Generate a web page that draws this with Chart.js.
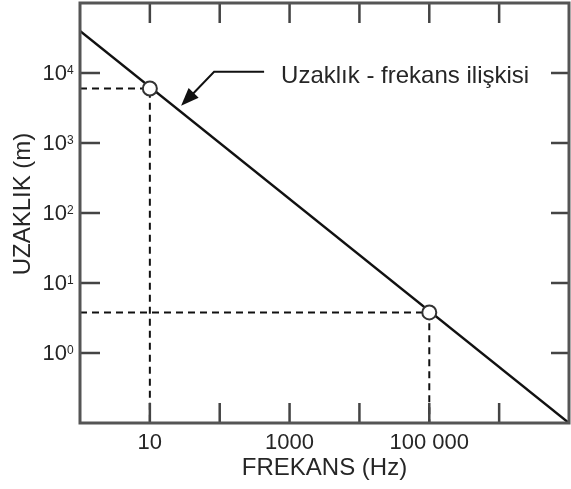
<!DOCTYPE html>
<html><head><meta charset="utf-8">
<script src="https://cdn.jsdelivr.net/npm/chart.js@4"></script>
<style>html,body{margin:0;padding:0;background:#fff}#wrap{width:571px;height:489px;position:relative}</style>
</head><body><div id="wrap"><canvas id="c"></canvas></div>
<script>
// ---- data ----
const xTickValues = [1, 10, 100, 1000, 10000, 100000, 1000000, 10000000];
const xTickLabels = ['', '10', '', '1000', '', '100 000', '', ''];
const yTickValues = [0.1, 1, 10, 100, 1000, 10000, 100000];
const yTickBase = ['', '10', '10', '10', '10', '10', ''];
const yTickExp = ['', '0', '1', '2', '3', '4', ''];
const lineFreq = [1, 10000000];
const lineDist = [40000, 0.1];
const markFreq = [10, 100000];
const markDist = [6000, 3.8];
const annotationText = 'Uzaklık - frekans ilişkisi';
const annotationTip = { x: 28, y: 3400 };
const xTitle = 'FREKANS (Hz)';
const yTitle = 'UZAKLIK (m)';
const xMin = 1, xMax = 1e7, yMin = 0.1, yMax = 1e5;

const FONT = '"Liberation Sans", Arial, Helvetica, sans-serif';
const TEXT = '#262626';
const FRAME = '#555';

const lineData = lineFreq.map((f, i) => ({ x: f, y: lineDist[i] }));
const markData = markFreq.map((f, i) => ({ x: f, y: markDist[i] }));
const guideSets = markFreq.map((f, i) => ({
  data: [{ x: xMin, y: markDist[i] }, { x: f, y: markDist[i] }, { x: f, y: yMin }],
  borderColor: '#111', borderWidth: 2, borderDash: [7, 5], pointRadius: 0, fill: false, tension: 0, order: 3
}));

const decor = {
  id: 'decor',
  afterDatasetsDraw(chart) {
    const { ctx, chartArea: a, scales: { x, y } } = chart;
    ctx.save();
    // inward ticks
    ctx.strokeStyle = '#444'; ctx.lineWidth = 2.5;
    xTickValues.forEach((v, i) => {
      if (i === 0 || i === xTickValues.length - 1) return;
      const px = x.getPixelForValue(v);
      ctx.beginPath();
      ctx.moveTo(px, a.bottom); ctx.lineTo(px, a.bottom - 20);
      ctx.moveTo(px, a.top); ctx.lineTo(px, a.top + 20);
      ctx.stroke();
    });
    yTickValues.forEach((v, i) => {
      if (i === 0 || i === yTickValues.length - 1) return;
      const py = y.getPixelForValue(v);
      ctx.beginPath();
      ctx.moveTo(a.left, py); ctx.lineTo(a.left + 20, py);
      ctx.moveTo(a.right, py); ctx.lineTo(a.right - 18, py);
      ctx.stroke();
    });
    // frame
    ctx.strokeStyle = FRAME; ctx.lineWidth = 3;
    ctx.strokeRect(a.left, a.top, a.right - a.left, a.bottom - a.top);
    // y tick labels with superscripts
    ctx.fillStyle = TEXT;
    yTickValues.forEach((v, i) => {
      if (!yTickBase[i]) return;
      const py = y.getPixelForValue(v);
      ctx.font = '22px ' + FONT;
      ctx.textAlign = 'right'; ctx.textBaseline = 'middle';
      ctx.fillText(yTickBase[i], a.left - 13, py + 1);
      ctx.font = '12px ' + FONT;
      ctx.textAlign = 'left'; ctx.textBaseline = 'top';
      ctx.fillText(yTickExp[i], a.left - 13, py - 8);
    });
    // y title
    ctx.save();
    ctx.translate(23, (a.top + a.bottom) / 2 - 9);
    ctx.rotate(-Math.PI / 2);
    ctx.font = '24px ' + FONT;
    ctx.textAlign = 'center'; ctx.textBaseline = 'middle';
    ctx.fillText(yTitle, 0, 0);
    ctx.restore();
    // annotation arrow
    const tx = x.getPixelForValue(annotationTip.x), ty = y.getPixelForValue(annotationTip.y);
    const ex = tx + 33, ey = ty - 34;
    ctx.strokeStyle = '#111'; ctx.lineWidth = 2;
    ctx.beginPath();
    ctx.moveTo(tx + 8, ty - 8); ctx.lineTo(ex, ey); ctx.lineTo(ex + 50, ey);
    ctx.stroke();
    const ang = Math.atan2(ty - ey, tx - ex);
    const L = 18, W = 7;
    ctx.fillStyle = '#111';
    ctx.beginPath();
    ctx.moveTo(tx, ty);
    ctx.lineTo(tx - L * Math.cos(ang) + W * Math.sin(ang), ty - L * Math.sin(ang) - W * Math.cos(ang));
    ctx.lineTo(tx - L * Math.cos(ang) - W * Math.sin(ang), ty - L * Math.sin(ang) + W * Math.cos(ang));
    ctx.closePath(); ctx.fill();
    ctx.fillStyle = TEXT;
    ctx.font = '24px ' + FONT;
    ctx.textAlign = 'left'; ctx.textBaseline = 'middle';
    ctx.fillText(annotationText, tx + 100, ey + 5);
    ctx.restore();
  }
};

new Chart(document.getElementById('c'), {
  type: 'line',
  data: {
    datasets: [
      { data: lineData, borderColor: '#111', borderWidth: 2.5, pointRadius: 0, fill: false, tension: 0, order: 2 },
      ...guideSets,
      { data: markData, showLine: false, pointRadius: 7, pointHoverRadius: 7, pointBackgroundColor: '#fff',
        pointBorderColor: '#333', pointBorderWidth: 2, order: 1 }
    ]
  },
  options: {
    responsive: true, maintainAspectRatio: false, animation: false,
    events: [],
    layout: { autoPadding: false, padding: { top: 3, right: 2, left: 0, bottom: 0 } },
    plugins: { legend: { display: false }, tooltip: { enabled: false } },
    scales: {
      x: {
        type: 'logarithmic', min: xMin, max: xMax, position: 'bottom',
        afterBuildTicks: s => { s.ticks = xTickValues.map(v => ({ value: v })); },
        afterFit: s => { s.height = 66; s.paddingLeft = 0; s.paddingRight = 0; },
        grid: { display: false, drawTicks: false },
        border: { display: false },
        ticks: {
          autoSkip: false, maxRotation: 0, padding: 7, color: TEXT,
          font: { family: FONT, size: 22 },
          callback: (v, i) => xTickLabels[i]
        },
        title: { display: true, text: xTitle, color: TEXT, font: { family: FONT, size: 24 }, padding: { top: 0, bottom: 6 } }
      },
      y: {
        type: 'logarithmic', min: yMin, max: yMax, position: 'left',
        afterBuildTicks: s => { s.ticks = yTickValues.map(v => ({ value: v })); },
        afterFit: s => { s.width = 80; s.paddingTop = 0; s.paddingBottom = 0; },
        grid: { display: false, drawTicks: false },
        border: { display: false },
        ticks: { display: false }
      }
    }
  },
  plugins: [decor]
});
</script>
</body></html>
